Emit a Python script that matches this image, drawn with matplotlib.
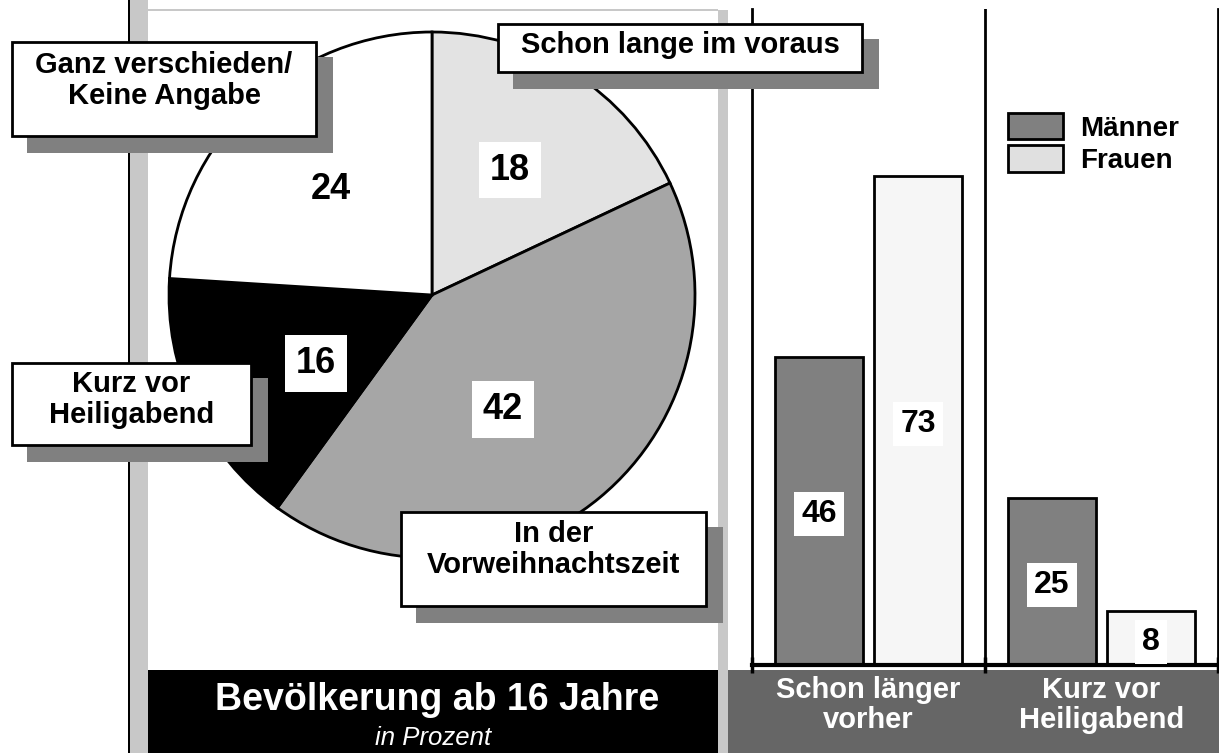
import matplotlib
matplotlib.use("Agg")
import matplotlib.pyplot as plt
from matplotlib.patches import Rectangle, Patch
import numpy as np

plt.rcParams['font.family'] = ['Liberation Sans', 'DejaVu Sans']

# ---------------- data ----------------
pie_labels = ["Schon lange im voraus", "In der\nVorweihnachtszeit", "Kurz vor\nHeiligabend", "Ganz verschieden/\nKeine Angabe"]
pie_values = [18, 42, 16, 24]
pie_colors = ["#e3e3e3", "#a6a6a6", "#000000", "#ffffff"]

bar_categories = ["Schon länger\nvorher", "Kurz vor\nHeiligabend"]
series_names = ["Männer", "Frauen"]
maenner = [46, 25]
frauen = [73, 8]

title = "Bevölkerung ab 16 Jahre"
subtitle = "in Prozent"

# ---------------- figure ----------------
W, H = 1219, 753
fig = plt.figure(figsize=(W / 100, H / 100), dpi=100)
fig.patch.set_facecolor("white")


def fx(x):
    return x / W


def fy(y):
    return 1 - y / H


def rect_px(x0, y0, x1, y1, **kw):
    r = Rectangle((fx(x0), fy(y1)), (x1 - x0) / W, (y1 - y0) / H,
                  transform=fig.transFigure, **kw)
    fig.patches.append(r)
    return r


# decorative frame of the left panel
rect_px(130, 0, 148, 753, facecolor="#c8c8c8", edgecolor="none", zorder=-2)
rect_px(718, 10, 728, 753, facecolor="#c8c8c8", edgecolor="none", zorder=-2)
rect_px(148, 9, 718, 11, facecolor="#c8c8c8", edgecolor="none", zorder=-2)
rect_px(127.5, 0, 129.5, 753, facecolor="black", edgecolor="none", zorder=-1)

# title boxes
rect_px(148, 670, 718, 753, facecolor="black", edgecolor="none", zorder=-1)
rect_px(728, 670, 1219, 753, facecolor="#666666", edgecolor="none", zorder=-1)
fig.text(fx(437), fy(710), title, color="white", fontsize=27, fontweight="bold",
         ha="center", va="baseline")
fig.text(fx(433), fy(745), subtitle, color="white", fontsize=18.5, style="italic",
         ha="center", va="baseline")

# ---------------- pie ----------------
axp = fig.add_axes([fx(169), fy(558), 526 / W, 526 / H])
wedges, _ = axp.pie(pie_values, colors=pie_colors, startangle=90, counterclock=False,
                    radius=1, wedgeprops=dict(edgecolor="black", linewidth=2, clip_on=False))
axp.set_xlim(-1, 1)
axp.set_ylim(-1, 1)
axp.set_aspect("equal")
axp.axis("off")

label_r = [0.573, 0.50, 0.505, 0.568]
label_shift = [1.2, -7.0, 4.0, -0.6]
for w, v, r, s in zip(wedges, pie_values, label_r, label_shift):
    ang = np.deg2rad((w.theta1 + w.theta2) / 2 + s)
    box = None if w.get_facecolor()[0] > 0.99 else dict(boxstyle="square,pad=0.3", facecolor="white", edgecolor="none")
    axp.text(r * np.cos(ang), r * np.sin(ang), str(v), fontsize=26, fontweight="bold",
             ha="center", va="center_baseline", bbox=box, zorder=5)

# callout boxes (box in pixels: x0, y0, x1, y1, last-line baseline) with shadow
callouts = [
    (pie_labels[3], (12, 42, 316, 136), 104),
    (pie_labels[0], (498, 24, 862, 72), 53),
    (pie_labels[2], (12, 363, 251, 445), 423),
    (pie_labels[1], (401, 512, 706, 606), 573),
]
for text, (x0, y0, x1, y1), yb in callouts:
    rect_px(x0 + 15, y0 + 15, x1 + 17, y1 + 17, facecolor="#808080", edgecolor="none", zorder=4)
    rect_px(x0, y0, x1, y1, facecolor="white", edgecolor="black", linewidth=2, zorder=5)
    fig.text(fx((x0 + x1) / 2), fy(yb), text, fontsize=21, fontweight="bold",
             ha="center", va="baseline", multialignment="center", linespacing=1.15, zorder=6)

# ---------------- bars ----------------
axb = fig.add_axes([fx(752), fy(665), (1218 - 752) / W, (665 - 9) / H])
axb.set_facecolor("none")
x = np.arange(len(bar_categories))
bw = 0.375
off = 0.212
bm = axb.bar(x - off, maenner, bw, color="#808080", edgecolor="black", linewidth=2)
bf = axb.bar(x + off, frauen, bw, color="#f6f6f6", edgecolor="black", linewidth=2)
axb.set_xlim(-0.5, len(bar_categories) - 0.5)
axb.set_ylim(0, 656 / 6.7)
for s in ["left", "right"]:
    axb.spines[s].set_linewidth(2)
axb.spines["top"].set_visible(False)
axb.spines["bottom"].set_linewidth(3)
for xs in x[:-1] + 0.5:
    axb.axvline(xs, color="black", linewidth=2)
axb.set_xticks(np.arange(-0.5, len(bar_categories), 1.0))
axb.set_xticklabels([])
axb.tick_params(axis="x", direction="inout", length=11, width=2.5)
axb.set_yticks([])

for rects, vals in [(bm, maenner), (bf, frauen)]:
    for r, v in zip(rects, vals):
        axb.text(r.get_x() + r.get_width() / 2, v / 2, str(v), fontsize=23, fontweight="bold",
                 ha="center", va="center_baseline",
                 bbox=dict(boxstyle="square,pad=0.22", facecolor="white", edgecolor="none"))

for xi, cat in zip(x, bar_categories):
    axb.text(xi, -(728 - 665) / 656, cat, transform=axb.get_xaxis_transform(), color="white",
             fontsize=21, fontweight="bold", ha="center", va="baseline", linespacing=1.1,
             multialignment="center", clip_on=False)

handles = [Patch(facecolor="#808080", edgecolor="black", linewidth=2),
           Patch(facecolor="#e0e0e0", edgecolor="black", linewidth=2)]
fs_leg = 20
fs_px = fs_leg * 100 / 72
axb.legend(handles, series_names, loc="upper left", bbox_to_anchor=(fx(1008), fy(113)),
           bbox_transform=fig.transFigure, frameon=False, borderpad=0, borderaxespad=0,
           handlelength=55 / fs_px, handleheight=30 / fs_px,
           handletextpad=17 / fs_px, labelspacing=0.13,
           prop=dict(size=fs_leg, weight="bold"))

fig.savefig("out.png", dpi=100, facecolor="white")
